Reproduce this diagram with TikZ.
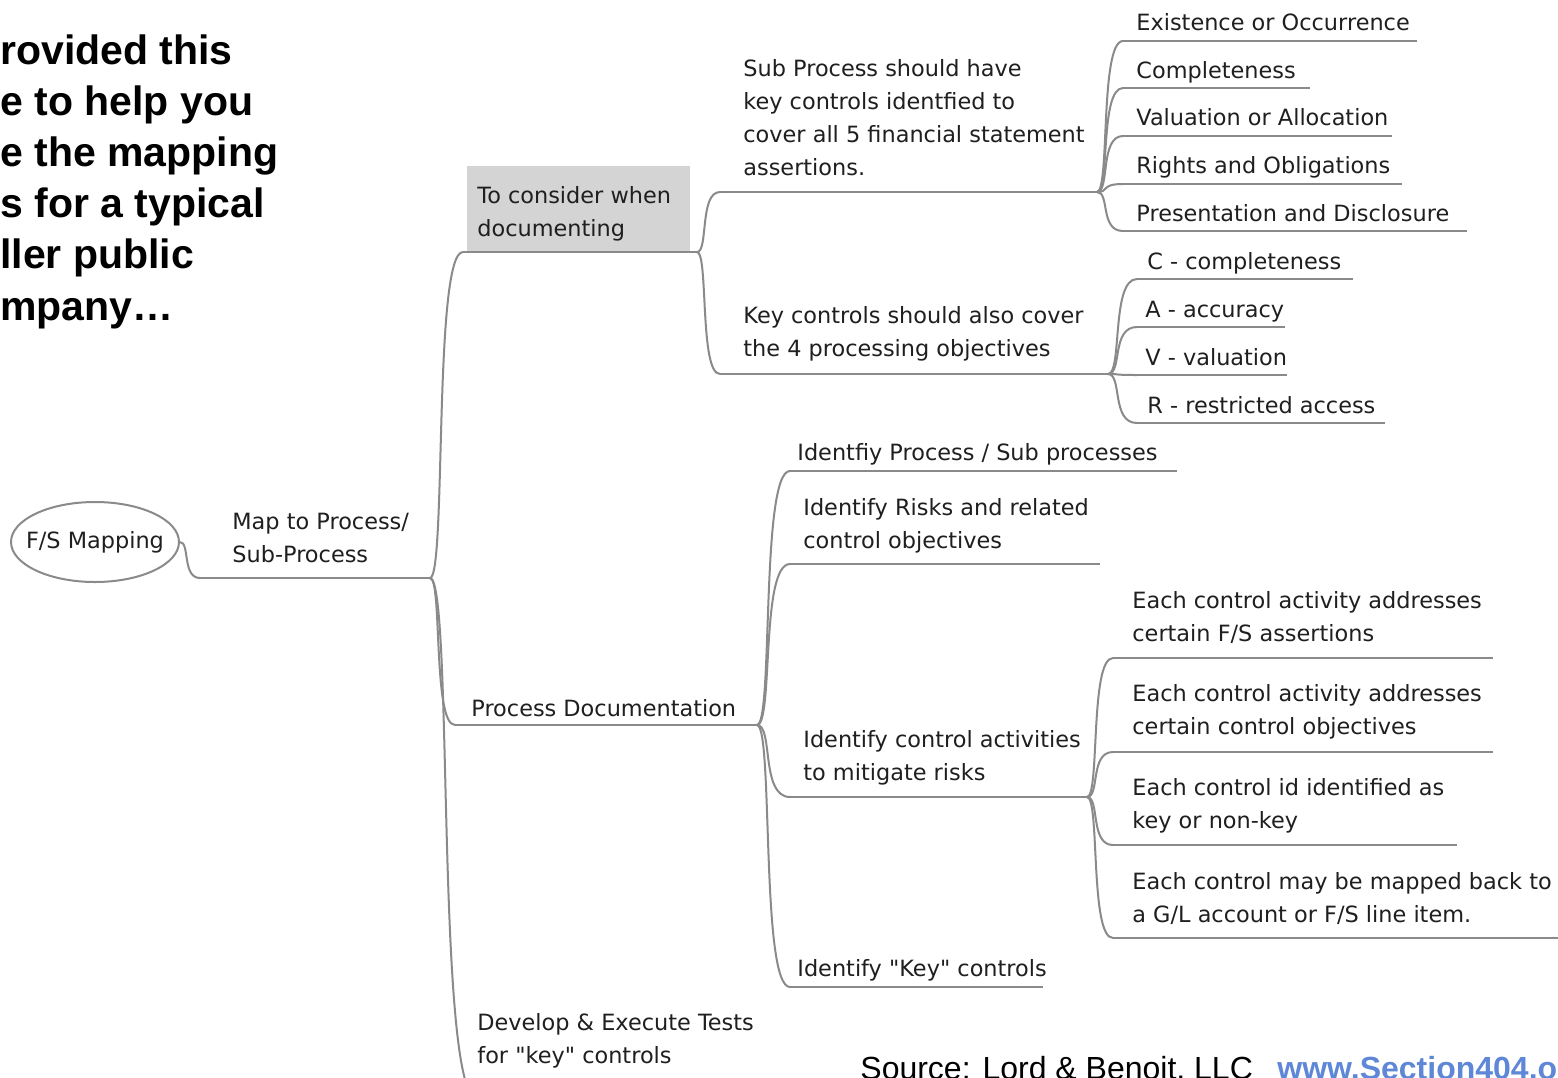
\documentclass[tikz,border=0pt]{standalone}
\usepackage{fontspec}
\setmainfont{DejaVu Sans}
\newfontfamily\mmfam{DejaVu Sans}
\newfontfamily\hdfont{Liberation Sans}
\usetikzlibrary{calc,shapes.geometric}
\definecolor{linegray}{HTML}{8A8A8A}
\definecolor{boxgray}{HTML}{D4D4D4}
\definecolor{linkblue}{HTML}{5F87D8}
\newcommand\mmfont{\mmfam\fontsize{11.2}{16.5}\selectfont}
\newcommand\mmlink[2]{\draw[conn] let \p1=(#1), \p2=(#2) in (\p1) .. controls ({\x1+0.5*(\x2-\x1)},\y1) and ({\x1+0.1*(\x2-\x1)},\y2) .. (\p2);}
\tikzset{
  txt/.style={anchor=base west, inner sep=0pt, align=left, font=\mmfont, text=black!88},
  uline/.style={draw=linegray, line width=1pt},
  conn/.style={draw=linegray, line width=1pt},
  head/.style={anchor=base west, inner sep=0pt, align=left, font=\hdfont\fontsize{20.5}{25.6}\selectfont\bfseries},
}
\begin{document}
\begin{tikzpicture}[x=0.5pt,y=-0.5pt]
\useasboundingbox (0,0) rectangle (1558,1077);
\clip (0,0) rectangle (1558,1077);
\fill[white] (0,0) rectangle (1558,1077);

% heading (cut at left edge); anchor = baseline of last line
\node[head] (hd) at (0,320) {rovided this\\e to help you\\e the mapping\\s for a typical\\ller public\\mpany\ldots};

% gray box
\node[fill=boxgray, inner sep=0pt, minimum width=111.5pt, minimum height=42.5pt, anchor=north west] (consbox) at (467,166) {};

% coordinates: underline start/end
\coordinate (map-s) at (200,578);   \coordinate (map-e) at (430,578);
\coordinate (con-s) at (463,252);   \coordinate (con-e) at (697,252);
\coordinate (pd-s) at (455,725);    \coordinate (pd-e) at (757,725);
\coordinate (dev-s) at (478,1100);  \coordinate (dev-e) at (770,1100);
\coordinate (sp-s) at (720,192);    \coordinate (sp-e) at (1097,192);
\coordinate (kc-s) at (720,374);    \coordinate (kc-e) at (1108,374);
\coordinate (ex-s) at (1123,41);    \coordinate (ex-e) at (1417,41);
\coordinate (co-s) at (1123,88);    \coordinate (co-e) at (1310,88);
\coordinate (va-s) at (1123,136);   \coordinate (va-e) at (1392,136);
\coordinate (ri-s) at (1123,184);   \coordinate (ri-e) at (1402,184);
\coordinate (pr-s) at (1123,231);   \coordinate (pr-e) at (1467,231);
\coordinate (c-s) at (1137,279);    \coordinate (c-e) at (1353,279);
\coordinate (a-s) at (1137,327);    \coordinate (a-e) at (1285,327);
\coordinate (v-s) at (1137,375);    \coordinate (v-e) at (1287,375);
\coordinate (r-s) at (1137,423);    \coordinate (r-e) at (1385,423);
\coordinate (ip-s) at (790,471);    \coordinate (ip-e) at (1177,471);
\coordinate (ir-s) at (790,564);    \coordinate (ir-e) at (1100,564);
\coordinate (ic-s) at (790,797);    \coordinate (ic-e) at (1087,797);
\coordinate (ik-s) at (790,987);    \coordinate (ik-e) at (1043,987);
\coordinate (e1-s) at (1113,658);   \coordinate (e1-e) at (1493,658);
\coordinate (e2-s) at (1113,752);   \coordinate (e2-e) at (1493,752);
\coordinate (e3-s) at (1113,845);   \coordinate (e3-e) at (1457,845);
\coordinate (e4-s) at (1113,938);   \coordinate (e4-e) at (1562,938);

% underlines
\foreach \n in {map,con,pd,dev,sp,kc,ex,co,va,ri,pr,c,a,v,r,ip,ir,ic,ik,e1,e2,e3,e4}
  \draw[uline] (\n-s) -- (\n-e);

% root
\node[ellipse, draw=linegray, line width=1pt, fill=white, minimum width=84pt, minimum height=40pt, inner xsep=-5pt, inner ysep=0pt, font=\mmfont, text=black!88] (root) at (95,542) {F/S Mapping};

% connectors
\mmlink{root.east}{map-s}
\mmlink{map-e}{con-s}
\mmlink{map-e}{pd-s}
\mmlink{map-e}{dev-s}
\mmlink{con-e}{sp-s}
\mmlink{con-e}{kc-s}
\mmlink{sp-e}{ex-s}
\mmlink{sp-e}{co-s}
\mmlink{sp-e}{va-s}
\mmlink{sp-e}{ri-s}
\mmlink{sp-e}{pr-s}
\mmlink{kc-e}{c-s}
\mmlink{kc-e}{a-s}
\mmlink{kc-e}{v-s}
\mmlink{kc-e}{r-s}
\mmlink{pd-e}{ip-s}
\mmlink{pd-e}{ir-s}
\mmlink{pd-e}{ic-s}
\mmlink{pd-e}{ik-s}
\mmlink{ic-e}{e1-s}
\mmlink{ic-e}{e2-s}
\mmlink{ic-e}{e3-s}
\mmlink{ic-e}{e4-s}

% texts (anchor = baseline of the last line)
\node[txt] (map) at (232,562.5) {Map to Process/\\Sub-Process};
\node[txt] (con) at (477,236.5) {To consider when\\documenting};
\node[txt] (pd) at (471,716.5) {Process Documentation};
\node[txt] (dev) at (477,1063.5) {Develop \& Execute Tests\\for "key" controls};
\node[txt] (sp) at (743,175.5) {Sub Process should have\\key controls identfied to\\cover all 5 financial statement\\assertions.};
\node[txt] (kc) at (743,356.5) {Key controls should also cover\\the 4 processing objectives};
\node[txt] (ex) at (1136,30.5) {Existence or Occurrence};
\node[txt] (co) at (1136,78.5) {Completeness};
\node[txt] (va) at (1136,125.5) {Valuation or Allocation};
\node[txt] (ri) at (1136,173.5) {Rights and Obligations};
\node[txt] (pr) at (1136,221.5) {Presentation and Disclosure};
\node[txt] (c) at (1147,269.5) {C - completeness};
\node[txt] (a) at (1145,317.5) {A - accuracy};
\node[txt] (v) at (1145,365) {V - valuation};
\node[txt] (r) at (1147,413) {R - restricted access};
\node[txt] (ip) at (797,460.5) {Identfiy Process / Sub processes};
\node[txt] (ir) at (803,548.5) {Identify Risks and related\\control objectives};
\node[txt] (ic) at (803,780.5) {Identify control activities\\to mitigate risks};
\node[txt] (ik) at (797,976.5) {Identify "Key" controls};
\node[txt] (e1) at (1132,641.5) {Each control activity addresses\\certain F/S assertions};
\node[txt] (e2) at (1132,734.5) {Each control activity addresses\\certain control objectives};
\node[txt] (e3) at (1132,828.5) {Each control id identified as\\key or non-key};
\node[txt] (e4) at (1132,922.5) {Each control may be mapped back to\\a G/L account or F/S line item.};

% source line (cut at bottom/right edge, as in the reference)
\node[anchor=base west, inner sep=0pt, font=\hdfont\fontsize{16}{18}\selectfont] (src) at (860,1079) {Source: Lord \& Benoit, LLC};
\node[anchor=base west, inner sep=0pt, font=\hdfont\fontsize{16}{18}\selectfont\bfseries, text=linkblue] (url) at (1277,1079) {www.Section404.org};
\end{tikzpicture}
\end{document}
